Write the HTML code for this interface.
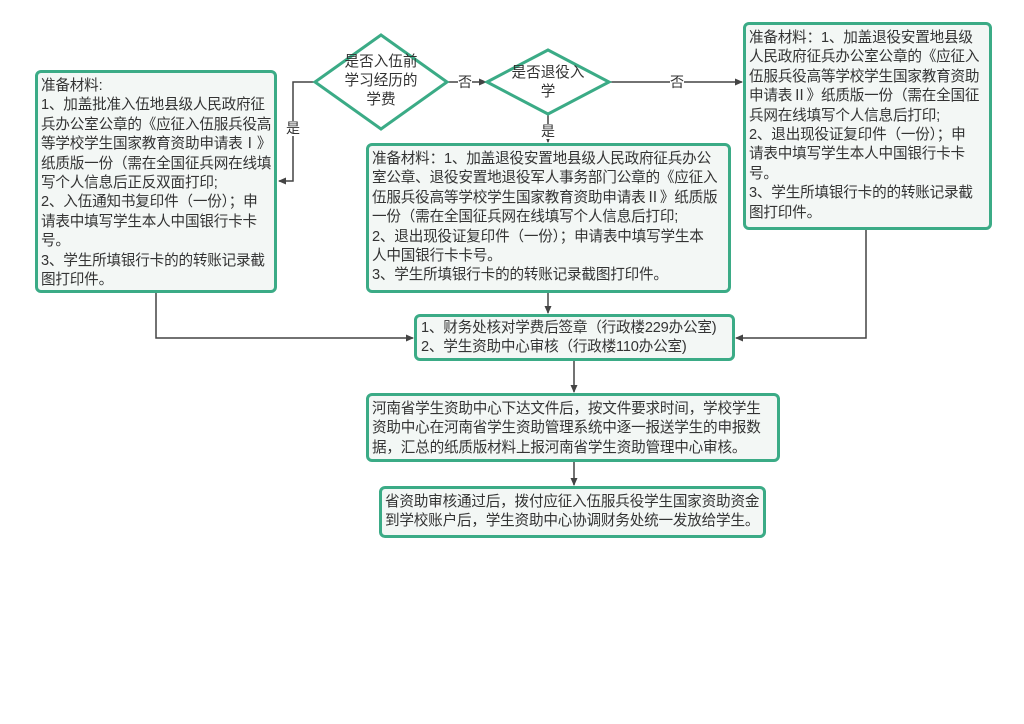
<!DOCTYPE html>
<html><head><meta charset="utf-8"><style>
body{margin:0;width:1024px;height:724px;background:#fff;position:relative;font-family:"Liberation Sans","Noto Sans CJK SC",sans-serif;color:#333;overflow:hidden}
.b{position:absolute;box-sizing:border-box;border:3px solid #3bab86;border-radius:6px;background:#f3f7f5;font-size:14.6px;line-height:19.4px;padding:4px 1px 3px 3px;letter-spacing:-0.2px;white-space:nowrap;overflow:hidden}
.t{position:absolute;font-size:14.6px;line-height:19px;text-align:center}
.l{position:absolute;font-size:14px;background:#fff;line-height:15px}
</style></head><body>
<svg width="1024" height="724" style="position:absolute;left:0;top:0">
<defs><marker id="a" markerWidth="8" markerHeight="8" refX="7" refY="4" orient="auto" markerUnits="userSpaceOnUse"><path d="M0,0.5 L8,4 L0,7.5z" fill="#444"/></marker></defs>
<g stroke="#444" stroke-width="1.5" fill="none">
<path d="M315,82 H293 V181 H279" marker-end="url(#a)"/>
<path d="M447,82 H486" marker-end="url(#a)"/>
<path d="M609,82 H742" marker-end="url(#a)"/>
<path d="M548,115 V142" marker-end="url(#a)"/>
<path d="M548,293 V313" marker-end="url(#a)"/>
<path d="M156,293 V338 H413" marker-end="url(#a)"/>
<path d="M866,230 V338 H736" marker-end="url(#a)"/>
<path d="M574,361 V392" marker-end="url(#a)"/>
<path d="M574,462 V485" marker-end="url(#a)"/>
</g>
<g stroke="#3bab86" stroke-width="3" fill="#fff">
<path d="M381,35 L447,82 L381,129 L315,82z"/>
<path d="M548,50 L609,82 L548,114 L487,82z"/>
</g>
</svg>
<div class="t" style="left:331px;top:53px;width:100px">是否入伍前<br>学习经历的<br>学费</div>
<div class="t" style="left:503px;top:64px;width:90px">是否退役入<br>学</div>
<div class="l" style="left:458px;top:75px">否</div>
<div class="l" style="left:670px;top:75px">否</div>
<div class="l" style="left:286px;top:121px">是</div>
<div class="l" style="left:541px;top:124px">是</div>
<div class="b" style="left:35px;top:70px;width:242px;height:223px">准备材料:<br>1、加盖批准入伍地县级人民政府征<br>兵办公室公章的《应征入伍服兵役高<br>等学校学生国家教育资助申请表Ⅰ》<br>纸质版一份（需在全国征兵网在线填<br>写个人信息后正反双面打印;<br>2、入伍通知书复印件（一份）；申<br>请表中填写学生本人中国银行卡卡<br>号。<br>3、学生所填银行卡的的转账记录截<br>图打印件。</div>
<div class="b" style="left:366px;top:143px;width:365px;height:150px">准备材料：1、加盖退役安置地县级人民政府征兵办公<br>室公章、退役安置地退役军人事务部门公章的《应征入<br>伍服兵役高等学校学生国家教育资助申请表Ⅱ》纸质版<br>一份（需在全国征兵网在线填写个人信息后打印;<br>2、退出现役证复印件（一份）；申请表中填写学生本<br>人中国银行卡卡号。<br>3、学生所填银行卡的的转账记录截图打印件。</div>
<div class="b" style="left:743px;top:22px;width:249px;height:208px">准备材料：1、加盖退役安置地县级<br>人民政府征兵办公室公章的《应征入<br>伍服兵役高等学校学生国家教育资助<br>申请表Ⅱ》纸质版一份（需在全国征<br>兵网在线填写个人信息后打印;<br>2、退出现役证复印件（一份）；申<br>请表中填写学生本人中国银行卡卡<br>号。<br>3、学生所填银行卡的的转账记录截<br>图打印件。</div>
<div class="b" style="left:414px;top:314px;width:321px;height:47px;padding-top:2px;padding-left:4px">1、财务处核对学费后签章（行政楼229办公室)<br>2、学生资助中心审核（行政楼110办公室)</div>
<div class="b" style="left:366px;top:393px;width:414px;height:69px;padding-top:4px">河南省学生资助中心下达文件后，按文件要求时间，学校学生<br>资助中心在河南省学生资助管理系统中逐一报送学生的申报数<br>据，汇总的纸质版材料上报河南省学生资助管理中心审核。</div>
<div class="b" style="left:379px;top:486px;width:387px;height:52px;padding-top:4px">省资助审核通过后，拨付应征入伍服兵役学生国家资助资金<br>到学校账户后，学生资助中心协调财务处统一发放给学生。</div>
</body></html>
